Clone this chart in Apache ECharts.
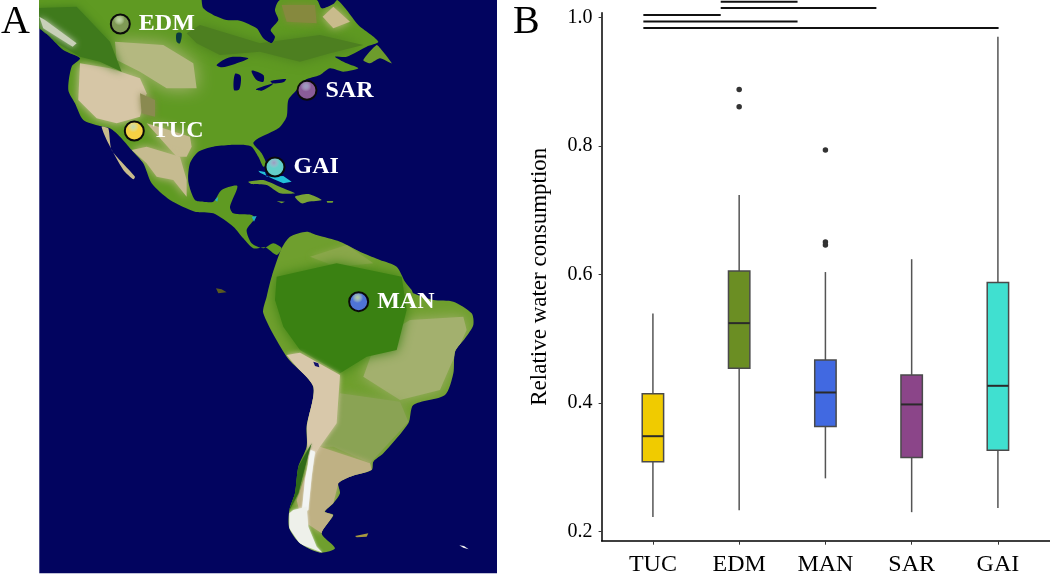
<!DOCTYPE html>
<html><head><meta charset="utf-8">
<style>html,body{margin:0;padding:0;background:#fff}#c{width:1050px;height:574px}</style>
<script src="https://cdn.jsdelivr.net/npm/echarts@6/dist/echarts.min.js"></script>
</head><body><div id="c"></div>
<script>
// ---- boxplot data ----
const categories = ['TUC','EDM','MAN','SAR','GAI'];
const boxLow  = [0.223,0.2335,0.283,0.2304,0.237];
const boxQ1   = [0.3087,0.4545,0.3637,0.3155,0.3268];
const boxMed  = [0.3486,0.5245,0.4166,0.398,0.427];
const boxQ3   = [0.4145,0.6055,0.467,0.444,0.5879];
const boxHigh = [0.5396,0.7237,0.604,0.624,0.970];
const boxColors = ['#f0cb00','#6b8e23','#4169e1','#8b4589','#40e0d0'];
const outlierCat = [1,1,2,2,2];
const outlierVal = [0.888,0.861,0.794,0.6506,0.646];
const yTicks = [0.2,0.4,0.6,0.8,1.0];
const bracketFrom = [0.786,0.786,-0.111,-0.111,-0.111];
const bracketTo   = [1.677,2.591,0.786,1.677,4.008];
const bracketVal  = [1.0246,1.0148,1.0039,0.9938,0.9837];

// ---- map data (map units) ----
const cityNames = ['EDM','SAR','TUC','GAI','MAN'];
const cityX = [361,921,403,825,1076];
const cityY = [72,271,393,501,905];
const cityColors = ['#7f9a55','#8a5c98','#f6d144','#63cfc8','#4f74d6'];
const naLand = [[100,-20],[605,-20],[605,0],[610,25],[640,45],[680,60],[720,62],[770,85],[790,115],[815,130],[825,110],[812,90],[835,60],[825,30],[840,0],[950,0],[965,25],[1000,12],[1012,0],[1040,30],[1075,75],[1135,125],[1100,140],[1040,170],[1005,170],[1040,190],[1075,205],[1030,215],[990,205],[960,225],[915,240],[890,270],[865,300],[860,350],[835,385],[775,415],[760,430],[785,460],[800,495],[790,500],[775,470],[755,440],[735,435],[690,435],[640,440],[595,455],[570,490],[565,545],[585,600],[610,605],[640,605],[665,570],[712,558],[690,620],[700,640],[755,645],[765,655],[740,690],[755,730],[790,745],[820,730],[845,745],[830,765],[795,742],[760,745],[730,715],[700,680],[640,640],[585,635],[510,600],[455,550],[430,490],[395,450],[360,410],[330,385],[300,378],[250,360],[225,310],[205,270],[215,200],[240,175],[190,150],[150,110],[100,65]];
const baja = [[305,380],[325,385],[335,450],[405,530],[400,538],[370,510],[325,430]];
const newfoundland = [[1090,180],[1130,135],[1145,150],[1175,190],[1140,175],[1110,190]];
const saLand = [[845,745],[870,710],[920,695],[950,705],[1020,725],[1090,760],[1140,780],[1190,800],[1215,845],[1235,870],[1240,880],[1300,900],[1360,905],[1415,940],[1420,975],[1395,1015],[1365,1055],[1360,1120],[1335,1185],[1240,1215],[1225,1270],[1150,1360],[1120,1385],[1115,1410],[1050,1430],[1015,1450],[1020,1480],[1000,1510],[975,1535],[1000,1545],[965,1600],[1005,1645],[960,1658],[900,1630],[868,1585],[868,1530],[885,1480],[895,1400],[920,1340],[920,1280],[940,1160],[860,1070],[790,940],[800,890],[815,830]];
const cuba = [[745,545],[790,540],[850,565],[885,580],[840,580],[800,555],[755,552]];
const hispaniola = [[885,590],[925,582],[965,600],[925,605],[905,610]];
const jamaica = [[830,603],[855,605],[845,610]];
const puertoRico = [[980,603],[1000,603],[998,608],[982,608]];
const falklands = [[1065,1608],[1105,1600],[1100,1610],[1070,1612]];
const sGeorgia = [[1378,1636],[1392,1638],[1406,1648],[1390,1643]];
const bahamas = [[775,512],[795,516],[800,530],[850,528],[875,545],[850,550],[820,537],[780,518]];
const shelf1 = [[645,600],[655,590],[652,605]];
const shelf2 = [[755,650],[770,648],[762,665]];
const westDesert = [[240,190],[330,205],[420,235],[440,280],[420,350],[350,370],[290,355],[235,300]];
const plains = [[345,125],[490,135],[580,190],[590,265],[500,265],[420,215],[350,180]];
const texasMex = [[440,370],[490,385],[570,410],[575,440],[560,470],[530,470]];
const mexico = [[395,450],[440,440],[540,470],[560,540],[560,590],[520,540],[470,530],[440,490]];
const rockies = [[100,25],[230,20],[330,125],[365,215],[300,185],[240,170],[190,140],[100,90]];
const utahForest = [[420,280],[465,300],[465,350],[425,340]];
const canadaForest = [[560,100],[600,75],[780,130],[960,105],[1090,135],[990,160],[900,185],[780,155],[660,165],[590,130]];
const quebecTan = [[1000,20],[1050,65],[1000,85],[968,50]];
const ungava = [[845,15],[945,15],[950,70],[860,65]];
const snowRockies = [[118,50],[135,60],[230,130],[218,140],[130,85]];
const superior = [[650,195],[690,172],[745,175],[705,192],[665,202]];
const michigan = [[705,222],[722,228],[718,268],[702,270]];
const huron = [[755,212],[790,225],[790,245],[770,240]];
const erie = [[768,268],[820,250],[815,256],[785,272]];
const ontario = [[812,243],[858,237],[850,247],[818,250]];
const winnipeg = [[530,100],[545,100],[540,130],[530,125]];
const amazon = [[830,830],[1010,790],[1205,830],[1220,930],[1190,1050],[1100,1070],[1020,1120],[900,1050],[850,980],[825,900]];
const llanos = [[930,770],[1040,735],[1120,790],[1010,800]];
const cerrado = [[1130,1020],[1230,960],[1390,950],[1400,990],[1350,1100],[1320,1170],[1200,1200],[1090,1130]];
const andesTan = [[860,1065],[900,1058],[1020,1125],[1010,1270],[960,1340],[925,1400],[920,1280],[940,1160]];
const chaco = [[1020,1180],[1200,1205],[1225,1265],[1110,1390],[1000,1340],[960,1340],[1010,1270]];
const patagonia = [[925,1400],[960,1340],[1110,1390],[1115,1410],[1015,1450],[1000,1510],[970,1535],[1000,1545],[965,1600],[905,1560],[890,1500]];
const chileForest = [[935,1330],[895,1400],[880,1490],[866,1535],[895,1480],[915,1400]];
const snowStrip = [[932,1350],[945,1355],[935,1430],[925,1530],[905,1540],[915,1440]];
const snowTip = [[880,1530],[920,1520],[925,1580],[950,1640],[968,1658],[900,1632],[868,1585],[868,1540]];
const titicaca = [[940,1085],[955,1090],[958,1102],[945,1098]];
const galapagos = [[648,865],[665,868],[680,877],[655,880]];

const mapLayers = [
 {pts:naLand,c:'#5f9a22',s:0.25},{pts:baja,c:'#c8bb8c',s:0.2},{pts:newfoundland,c:'#6d9c2c',s:0.2},{pts:saLand,c:'#6f9f2e',s:0.25},
 {pts:cuba,c:'#6f9f30',s:0.2},{pts:hispaniola,c:'#7aa338',s:0.2},{pts:jamaica,c:'#6f9f30'},{pts:puertoRico,c:'#6f9f30'},
 {pts:falklands,c:'#a89a40'},{pts:sGeorgia,c:'#f0f0f0'},{pts:galapagos,c:'#5a5a20'},
 {pts:bahamas,c:'#22c0d8'},{pts:shelf1,c:'#22b0c8'},{pts:shelf2,c:'#22b0c8'},
 {pts:plains,c:'#b4b880',b:18,m:naLand},{pts:texasMex,c:'#c6bb90',b:12,m:naLand},{pts:mexico,c:'#c6bb90',b:8,m:naLand},{pts:westDesert,c:'#d6c6a6',b:10,m:naLand},
 {pts:utahForest,c:'#8a8a50',b:6,m:naLand},{pts:rockies,c:'#3f7a1c',b:8,m:naLand},{pts:canadaForest,c:'#4d7f20',b:12,m:naLand},
 {pts:ungava,c:'#86893e',b:8,m:naLand},{pts:quebecTan,c:'#c9bb8c',b:8,m:naLand},{pts:snowRockies,c:'#c8d0b8',b:6,m:naLand},
 {pts:superior,c:'#02045f',s:0.3},{pts:michigan,c:'#02045f',s:0.3},{pts:huron,c:'#02045f',s:0.3},{pts:erie,c:'#02045f',s:0.3},{pts:ontario,c:'#02045f',s:0.3},{pts:winnipeg,c:'#0a3a40',s:0.3},
 {pts:llanos,c:'#8aa74a',b:6,m:saLand},{pts:cerrado,c:'#a3b06e',b:14,m:saLand},{pts:amazon,c:'#3a8112',b:12,m:saLand},
 {pts:chaco,c:'#8aa354',b:10,m:saLand},{pts:patagonia,c:'#bfb184',b:6,m:saLand},{pts:andesTan,c:'#d8c8aa',b:5,m:saLand},
 {pts:chileForest,c:'#2f6a18',b:2,m:saLand},{pts:snowStrip,c:'#f2f4f2',b:2,m:saLand},{pts:snowTip,c:'#eef0ea',b:3,m:saLand},{pts:titicaca,c:'#12126a'}
];

const serif = '"Liberation Serif", serif';
const chart = echarts.init(document.getElementById('c'));
chart.setOption({
  animation:false, backgroundColor:'#fff',
  title:[
    {text:'A',left:-4,top:-3,textStyle:{fontFamily:serif,fontWeight:'normal',fontSize:40,color:'#000'}},
    {text:'B',left:508,top:-3,textStyle:{fontFamily:serif,fontWeight:'normal',fontSize:40,color:'#000'}}
  ],
  grid:[
    {left:39.3,top:0,width:457.7,height:573.3,backgroundColor:'#02045f',show:true,borderWidth:0,outerBoundsMode:'none'},
    {left:601.6,top:12.7,width:448.4,height:528,outerBoundsMode:'none'}
  ],
  xAxis:[
    {gridIndex:0,type:'value',min:118,max:1491,show:false},
    {gridIndex:1,type:'value',min:-0.595,max:4.604,splitLine:{show:false},
     axisLine:{show:true,onZero:false,lineStyle:{color:'#000',width:1.5}},
     axisTick:{show:true,length:4,customValues:[0,1,2,3,4],lineStyle:{color:'#333'}},
     axisLabel:{customValues:[0,1,2,3,4],margin:12,fontFamily:serif,fontSize:24,color:'#000',formatter:v=>categories[Math.round(v)]}}
  ],
  yAxis:[
    {gridIndex:0,type:'value',min:0,max:1720,inverse:true,show:false},
    {gridIndex:1,type:'value',min:0.186,max:1.0075,splitLine:{show:false},
     name:'Relative water consumption',nameLocation:'middle',nameGap:50,nameTextStyle:{fontFamily:serif,fontSize:23,color:'#000'},
     axisLine:{show:true,onZero:false,lineStyle:{color:'#000',width:1.5}},
     axisTick:{show:true,length:3,customValues:yTicks,lineStyle:{color:'#333'}},
     axisLabel:{customValues:yTicks,margin:9,fontFamily:serif,fontSize:20,color:'#000',formatter:v=>v.toFixed(1)}}
  ],
  series:[
    {type:'custom',name:'land',xAxisIndex:0,yAxisIndex:0,silent:true,clip:true,
     data:mapLayers.map((l,i)=>[l.pts[0][0],l.pts[0][1],i]),
     renderItem:(p,api)=>{const l=mapLayers[p.dataIndex];
       const el={type:'polygon',shape:{points:l.pts.map(q=>api.coord(q)),smooth:l.s||0},
         style:{fill:l.c,shadowBlur:l.b||0,shadowColor:l.c}};
       if(l.m) el.clipPath={type:'polygon',shape:{points:l.m.map(q=>api.coord(q)),smooth:0.25}};
       return el;}},
    {type:'scatter',name:'sites',xAxisIndex:0,yAxisIndex:0,silent:true,symbolSize:19,
     data:cityX.map((x,i)=>({value:[x,cityY[i]],name:cityNames[i],
       itemStyle:{opacity:1,color:new echarts.graphic.RadialGradient(0.45,0.3,0.75,[{offset:0,color:'#ffffff99'},{offset:0.35,color:cityColors[i]},{offset:1,color:cityColors[i]}]),borderColor:'#0a0a0a',borderWidth:2}})),
     label:{show:true,opacity:1,position:'right',distance:8,formatter:'{b}',fontFamily:serif,fontWeight:'bold',fontSize:24,color:'#fff'}},
    {type:'custom',name:'boxes',xAxisIndex:1,yAxisIndex:1,silent:true,
     encode:{x:0,y:[1,2,3,4,5]},
     data:categories.map((c,i)=>[i,boxLow[i],boxQ1[i],boxMed[i],boxQ3[i],boxHigh[i]]),
     renderItem:(p,api)=>{
       const i=api.value(0),w=api.size([1,0])[0]*0.248,x=api.coord([i,0])[0];
       const y=k=>api.coord([i,api.value(k)])[1];
       const stroke='#4a4a4a';
       return {type:'group',children:[
         {type:'line',shape:{x1:x,y1:y(5),x2:x,y2:y(4)},style:{stroke:'#555',lineWidth:1.5}},
         {type:'line',shape:{x1:x,y1:y(2),x2:x,y2:y(1)},style:{stroke:'#555',lineWidth:1.5}},
         {type:'rect',shape:{x:x-w/2,y:y(4),width:w,height:y(2)-y(4)},style:{fill:boxColors[i],stroke:stroke,lineWidth:1.5}},
         {type:'line',shape:{x1:x-w/2,y1:y(3),x2:x+w/2,y2:y(3)},style:{stroke:'#2a2a2a',lineWidth:2}}
       ]};}},
    {type:'scatter',name:'outliers',xAxisIndex:1,yAxisIndex:1,silent:true,symbolSize:5.5,
     itemStyle:{color:'#333',opacity:1},data:outlierCat.map((c,i)=>[c,outlierVal[i]])},
    {type:'custom',name:'brackets',xAxisIndex:1,yAxisIndex:1,silent:true,
     encode:{x:[0,1],y:2},
     data:bracketFrom.map((f,i)=>[f,bracketTo[i],bracketVal[i]]),
     renderItem:(p,api)=>{
       const a=api.coord([api.value(0),api.value(2)]),b=api.coord([api.value(1),api.value(2)]);
       return {type:'line',shape:{x1:a[0],y1:a[1],x2:b[0],y2:b[1]},style:{stroke:'#111',lineWidth:2}};}}
  ]
});
</script></body></html>
